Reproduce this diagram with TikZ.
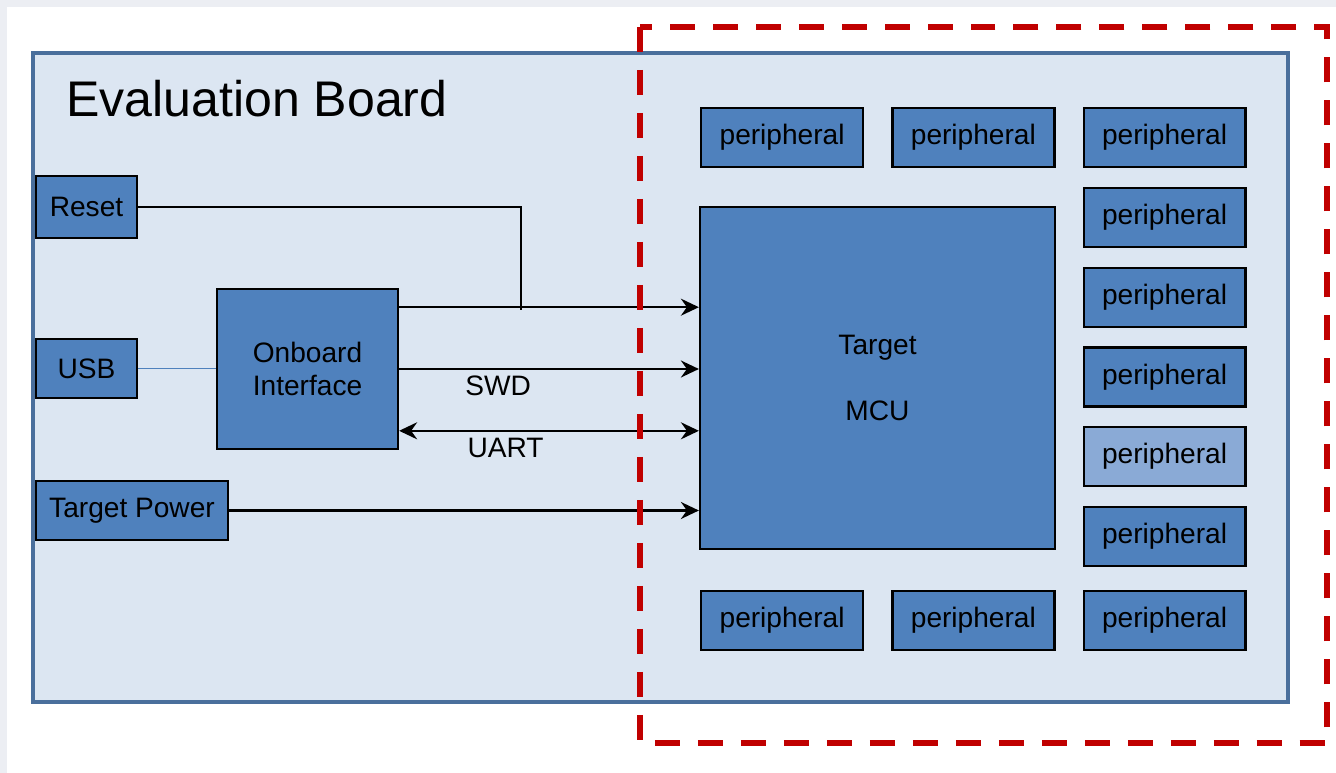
\documentclass[tikz,border=0pt]{standalone}
\usepackage{fontspec}
\setmainfont{Liberation Sans}
\usepackage{xcolor}
\usepackage{tikz}
\usetikzlibrary{arrows.meta, positioning}
\definecolor{page_edge}{HTML}{ECEEF3}
\definecolor{board_fill}{HTML}{DCE6F2}
\definecolor{board_edge}{HTML}{4A6F9C}
\definecolor{block_fill}{HTML}{4F81BD}
\definecolor{block_light}{HTML}{8AAAD6}
\definecolor{usb_line}{HTML}{4F81BD}
\definecolor{target_red}{HTML}{C00000}

\begin{document}
\begin{tikzpicture}[
	x = 0.02cm, y = -0.02cm,
	node distance = 0.37cm and 0.54cm,
	>={Stealth[length=0.36cm, width=0.34cm, inset=0.12cm]},
	block/.style = {draw, rectangle, align=center, fill=block_fill, line width=1.3pt, inner sep=2pt},
	periph/.style = {block, minimum width=3.24cm, minimum height=1.18cm},
	wire/.style = {line width=1.3pt},
]
\tikzstyle{every node}=[font=\fontsize{16}{19}\selectfont]

% Page and board
\fill[page_edge] (0,0) rectangle (1336,773);
\fill[white] (7,7) rectangle (1336,773);
\useasboundingbox (0,0) rectangle (1336,773);
\draw[board_edge, fill=board_fill, line width=2.2pt] (33,53) rectangle (1288,702);
\node[anchor=base west, font=\fontsize{28.5}{34}\selectfont] (Title) at (60,117) {Evaluation Board};

% Define blocks
\node[block, minimum width=2.02cm, minimum height=1.24cm] (Reset) at (86.5,207) {Reset};
\node[block, minimum width=2.02cm, minimum height=1.18cm] (USB) at (86.5,368.5) {USB};
\node[block, minimum width=3.84cm, minimum height=1.18cm] (TargetPower) at (132,510.5) {Target Power};
\node[block, minimum width=3.62cm, minimum height=3.2cm] (Onboard) at (307.5,369) {Onboard\\Interface};
\node[block, minimum width=7.1cm, minimum height=6.84cm] (MCU) at (877.5,378) {Target\\[19pt]MCU};

% Define peripherals
\node[periph, anchor=north west] (PerTopA) at (700,107) {peripheral};
\node[periph, right=of PerTopA] (PerTopB) {peripheral};
\node[periph, right=of PerTopB] (PerTopC) {peripheral};
\node[periph, below=of PerTopC] (PerSideA) {peripheral};
\node[periph, below=of PerSideA] (PerSideB) {peripheral};
\node[periph, below=of PerSideB] (PerSideC) {peripheral};
\node[periph, below=of PerSideC, fill=block_light] (PerSideD) {peripheral};
\node[periph, below=of PerSideD] (PerSideE) {peripheral};
\node[periph, anchor=north west] (PerBotA) at (700,590) {peripheral};
\node[periph, right=of PerBotA] (PerBotB) {peripheral};
\node[periph, right=of PerBotB] (PerBotC) {peripheral};

% Draw connections
\coordinate (ResetJoin) at (521,310);
\draw[wire] (Reset.east) -| (ResetJoin);
\draw[usb_line, line width=0.8pt] (USB.east) -- (USB.east -| Onboard.west);
\path[->, wire] (Onboard.34.4) edge (Onboard.34.4 -| MCU.west);
\path[->, wire] (Onboard.east) edge node[below, pos=0.33]{SWD} (Onboard.east -| MCU.west);
\path[<->, wire] (Onboard.-34.4) edge node[below, pos=0.355]{UART} (Onboard.-34.4 -| MCU.west);
\path[->, wire] (TargetPower.east) edge (TargetPower.east -| MCU.west);

% Target area
\draw[target_red, line width=0.12cm, dash pattern=on 0.5cm off 0.36cm] (640,27) rectangle (1327,743);
\end{tikzpicture}
\end{document}
